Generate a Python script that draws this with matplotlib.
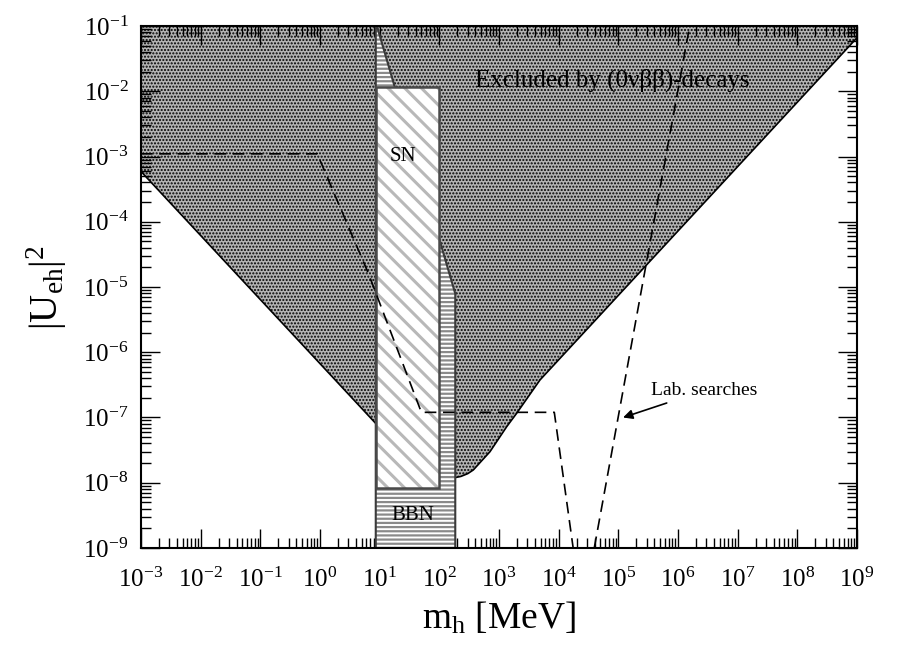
import numpy as np
import matplotlib
matplotlib.use("Agg")
import matplotlib.pyplot as plt
from matplotlib.patches import Polygon
from matplotlib.ticker import LogLocator, NullFormatter

plt.rcParams['font.family'] = ['Liberation Serif', 'DejaVu Serif']
plt.rcParams['mathtext.fontset'] = 'custom'
plt.rcParams['mathtext.rm'] = 'Liberation Serif'
plt.rcParams['mathtext.it'] = 'Liberation Serif:italic'
plt.rcParams['mathtext.bf'] = 'Liberation Serif:bold'

# region excluded by neutrinoless double beta decay (m in MeV, |U|^2)
excl_m = [1e-3, 8.6, 185, 230, 300, 371, 706, 1346, 1977, 4864, 1e9, 1e9, 1e-3]
excl_u = [5.9e-4, 8.1e-8, 1.2e-8, 1.25e-8, 1.38e-8, 1.57e-8, 2.99e-8, 7.23e-8,
          1.16e-7, 3.76e-7, 6.6e-2, 1e-1, 1e-1]

# supernova box
sn_m = [8.6, 100, 100, 8.6]
sn_u = [8.2e-9, 8.2e-9, 1.15e-2, 1.15e-2]

# big bang nucleosynthesis region
bbn_m = [8.6, 8.6, 9.0, 185, 185]
bbn_u = [1e-9, 1e-1, 1e-1, 7.9e-6, 1e-9]

# laboratory searches (dashed)
lab1_m = [1e-3, 0.9, 6.5, 50, 8450, 17500]
lab1_u = [1.1e-3, 1.1e-3, 1.6e-5, 1.2e-7, 1.2e-7, 1e-9]
lab2_m = [3.95e4, 1.57e6]
lab2_u = [1e-9, 1e-1]

fig = plt.figure(figsize=(9.15, 6.54), dpi=100)
ax = fig.add_axes([0.1541, 0.1621, 0.7825, 0.7981])
ax.set_xscale('log')
ax.set_yscale('log')
ax.set_xlim(1e-3, 1e9)
ax.set_ylim(1e-9, 1e-1)

# dotted exclusion region
plt.rcParams['hatch.linewidth'] = 1.0
excl = Polygon(np.column_stack([excl_m, excl_u]), closed=True,
               facecolor='#b4b4b4', edgecolor='black', hatch='.....',
               linewidth=0, zorder=1)
ax.add_patch(excl)
ax.plot(excl_m[:-2], excl_u[:-2], color='black', lw=1.2, zorder=1.5)

# BBN
plt.rcParams['hatch.linewidth'] = 1.6
bbn = Polygon(np.column_stack([bbn_m, bbn_u]), closed=True,
              facecolor='white', edgecolor='#8a8a8a', hatch='----',
              linewidth=0, zorder=2)
ax.add_patch(bbn)
ax.add_patch(Polygon(np.column_stack([bbn_m, bbn_u]), closed=True,
                     fill=False, edgecolor='#3a3a3a', lw=1.5, zorder=2.1))

# SN
plt.rcParams['hatch.linewidth'] = 2.2
sn = Polygon(np.column_stack([sn_m, sn_u]), closed=True,
             facecolor='white', edgecolor='#b8b8b8', hatch='\\\\',
             linewidth=0, zorder=3)
ax.add_patch(sn)
ax.add_patch(Polygon(np.column_stack([sn_m, sn_u]), closed=True,
                     fill=False, edgecolor='#4a4a4a', lw=1.8, zorder=3.1))

# lab searches
ax.plot(lab1_m, lab1_u, color='black', lw=1.2, ls=(0, (7, 4)), zorder=4)
ax.plot(lab2_m, lab2_u, color='black', lw=1.2, ls=(0, (7, 4)), zorder=4)

ax.text(25, 1.0e-3, 'SN', fontsize=15, ha='center', va='center', zorder=5)
ax.text(36, 3.2e-9, 'BBN', fontsize=15, ha='center', va='center', zorder=5)
ax.text(7.8e4, 1.45e-2, 'Excluded by (0\u03bd\u03b2\u03b2)-decays', fontsize=18,
        ha='center', va='center', zorder=5)
ax.annotate('Lab. searches', xy=(1.2e5, 1.0e-7), xytext=(2.8e6, 2.6e-7),
            fontsize=14, ha='center', va='center', zorder=5,
            arrowprops=dict(arrowstyle='-|>', color='black', lw=1.2,
                            mutation_scale=14, shrinkA=3, shrinkB=0))

ax.xaxis.set_major_locator(LogLocator(base=10, numticks=20))
ax.yaxis.set_major_locator(LogLocator(base=10, numticks=20))
ax.xaxis.set_minor_locator(LogLocator(base=10, subs=np.arange(2, 10), numticks=200))
ax.yaxis.set_minor_locator(LogLocator(base=10, subs=np.arange(2, 10), numticks=200))
ax.xaxis.set_minor_formatter(NullFormatter())
ax.yaxis.set_minor_formatter(NullFormatter())
ax.tick_params(which='both', direction='in', top=True, right=True, width=1.0)
ax.tick_params(which='major', length=14, labelsize=18)
ax.tick_params(which='minor', length=7)
ax.tick_params(axis='x', which='major', pad=14)
ax.tick_params(axis='y', which='major', pad=9)
for sp in ax.spines.values():
    sp.set_linewidth(1.5)

ax.set_xlabel(r'$\mathrm{m}_\mathrm{h}$ [MeV]', fontsize=27, labelpad=6)
ax.set_ylabel(r'$|\mathrm{U}_\mathrm{eh}|^2$', fontsize=28, labelpad=10)

fig.savefig('out.png', dpi=100)
